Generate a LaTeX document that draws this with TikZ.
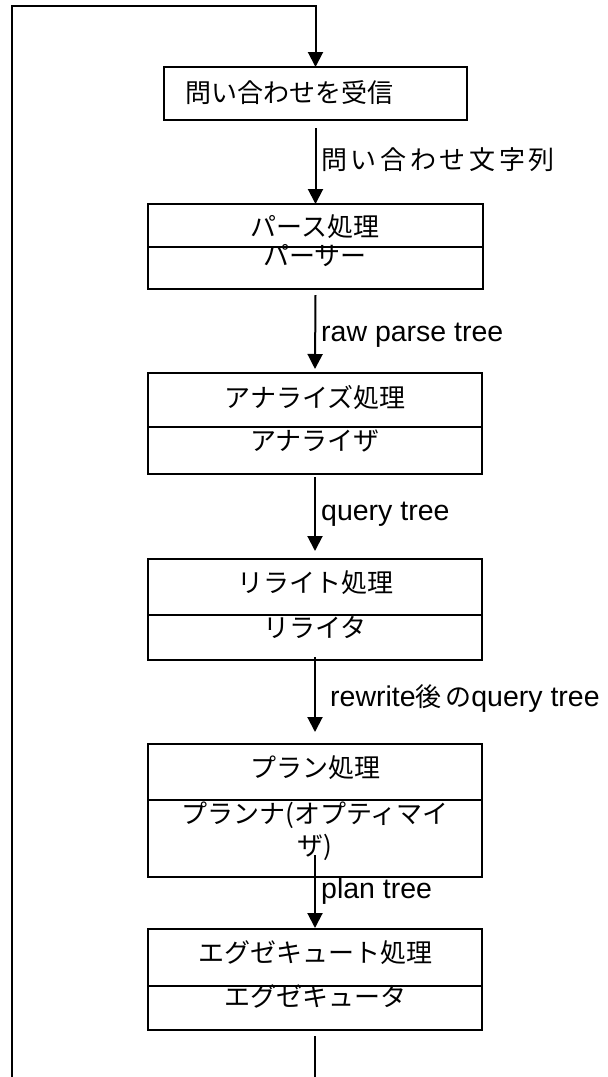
\documentclass[tikz,border=0pt]{standalone}
\usepackage{fontspec}
\setmainfont{Liberation Sans}
\newfontfamily\jp{Noto Sans CJK JP}
\newfontfamily\jpl[LetterSpace=14]{Noto Sans CJK JP}
\newcommand{\jpL}[1]{{\jpl\fontsize{26}{31}\selectfont #1}}
\usetikzlibrary{arrows.meta}
\begin{document}
\begin{tikzpicture}[x=1pt,y=-1pt,
  box/.style={draw, line width=2pt, rectangle, inner sep=0pt, outer sep=0pt},
  conn/.style={line width=2pt},
  arr/.style={conn, -{Triangle[length=15pt,width=15pt]}},
  boxtxt/.style={inner sep=0pt, font=\jp\fontsize{26}{31.7}\selectfont, align=center},
  lbl/.style={inner sep=0pt, font=\fontsize{28.5}{34}\selectfont},
]
\useasboundingbox (0,0) rectangle (608,1077);
\clip (0,0) rectangle (608,1077);

% boxes
\node[box, minimum width=303pt, minimum height=53pt]  (b1) at (315.5,93.5) {};
\node[box, minimum width=335pt, minimum height=85pt]  (b2) at (315.5,246.5) {};
\node[box, minimum width=334pt, minimum height=101pt] (b3) at (315,423.5) {};
\node[box, minimum width=334pt, minimum height=101pt] (b4) at (315,609.5) {};
\node[box, minimum width=334pt, minimum height=133pt] (b5) at (315,810.5) {};
\node[box, minimum width=334pt, minimum height=101pt] (b6) at (315,979.5) {};

% dividers
\draw[conn] (b2.west |- 0,247) -- (b2.east |- 0,247);
\draw[conn] (b3.west |- 0,427) -- (b3.east |- 0,427);
\draw[conn] (b4.west |- 0,615) -- (b4.east |- 0,615);
\draw[conn] (b5.west |- 0,800) -- (b5.east |- 0,800);
\draw[conn] (b6.west |- 0,986) -- (b6.east |- 0,986);

% box texts
\node[boxtxt, anchor=west] (t1) at (185,93) {問い合わせを受信};
\node[boxtxt] (t2a) at (315,227) {パース処理};
\node[boxtxt] (t2b) at (315,256) {パーサー};
\node[boxtxt] (t3a) at (315,397.5) {アナライズ処理};
\node[boxtxt] (t3b) at (315,441) {アナライザ};
\node[boxtxt] (t4a) at (315,583) {リライト処理};
\node[boxtxt] (t4b) at (315,627) {リライタ};
\node[boxtxt] (t5a) at (315,767.5) {プラン処理};
\node[boxtxt] (t5b) at (315,831) {プランナ(オプティマイ\\ザ)};
\node[boxtxt] (t6a) at (315,953) {エグゼキュート処理};
\node[boxtxt] (t6b) at (315,996) {エグゼキュータ};

% connectors
\draw[arr] ([yshift=-8pt]b1.south) -- (b2.north);
\draw[arr] ([yshift=-6pt]b2.south) -- ([yshift=4pt]b3.north);
\draw[arr] ([yshift=-3pt]b3.south) -- ([yshift=8pt]b4.north);
\draw[arr] ([yshift=3pt]b4.south) -- ([yshift=12pt]b5.north);
\draw[arr] ([yshift=22pt]b5.south) -- ([yshift=1pt]b6.north);

\coordinate (lb) at (315,1100);
\coordinate (tl) at (12,6);
\draw[arr] ([yshift=-6pt]b6.south) -- (lb) -| (tl) -| (b1.north);

% labels
\node[lbl, anchor=west] (l1) at (321,160) {\jpL{問い合わせ文字列}};
\node[lbl, anchor=base west] (l2) at (321,341) {raw parse tree};
\node[lbl, anchor=base west] (l3) at (321,520) {query tree};
\node[lbl, anchor=base west] (l4) at (330,706) {rewrite\jpL{後の}query tree};
\node[lbl, anchor=base west] (l5) at (321,898) {plan tree};
\end{tikzpicture}
\end{document}
